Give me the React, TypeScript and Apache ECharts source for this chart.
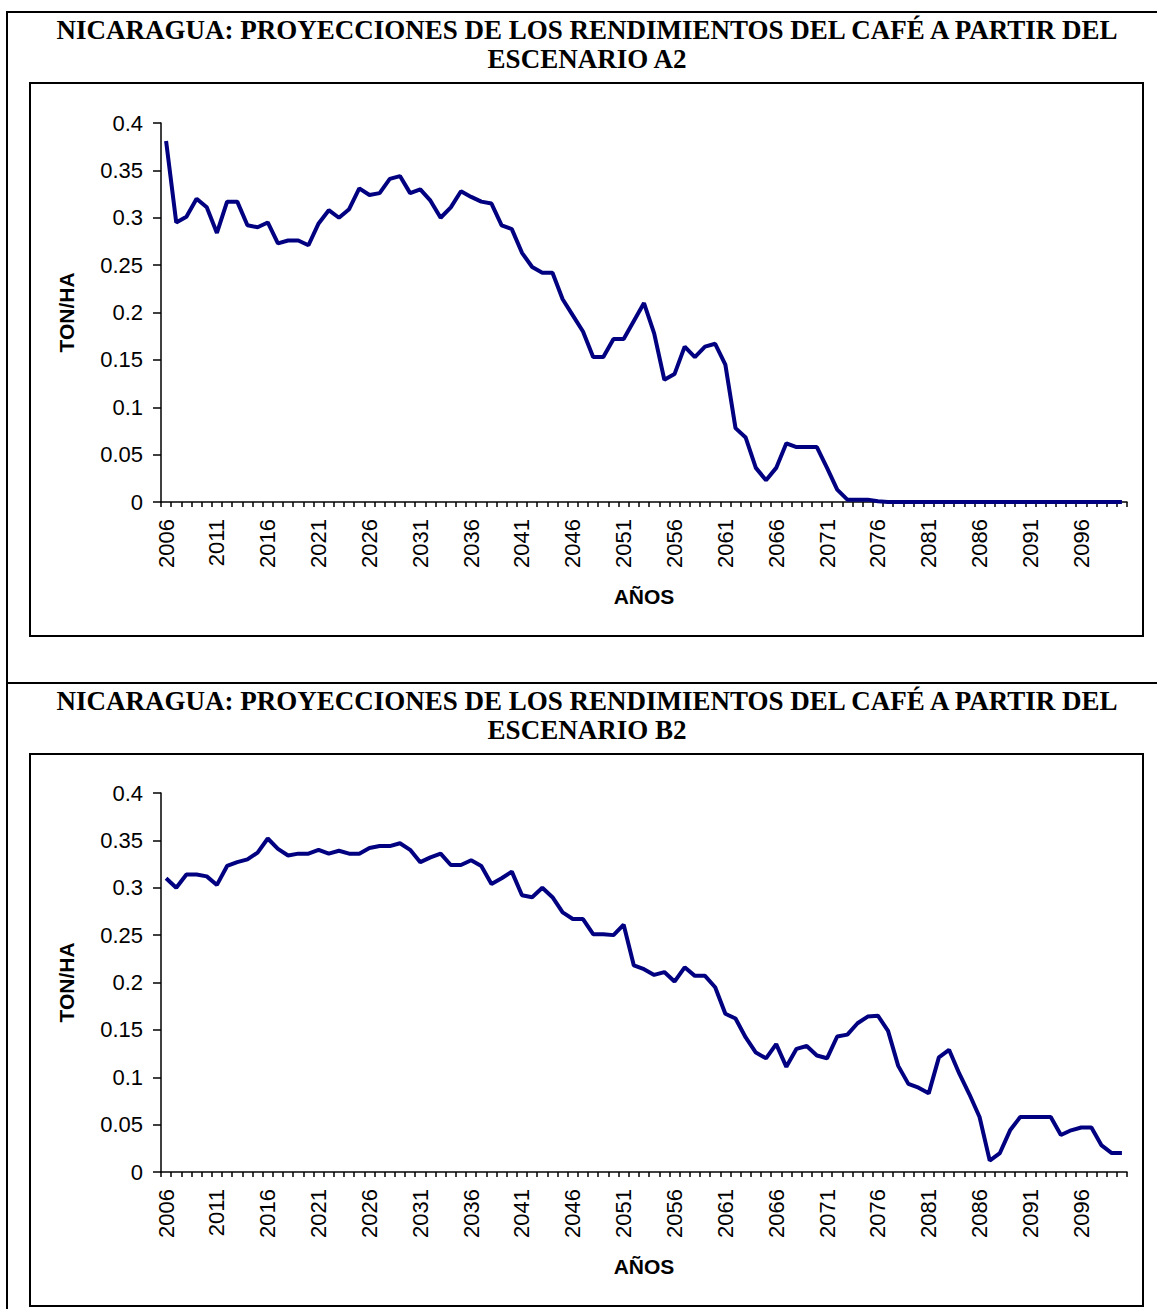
import React, { useEffect, useRef } from "react";
import * as echarts from "echarts";

const years: string[] = [
  "2006","2007","2008","2009","2010","2011","2012","2013","2014","2015",
  "2016","2017","2018","2019","2020","2021","2022","2023","2024","2025",
  "2026","2027","2028","2029","2030","2031","2032","2033","2034","2035",
  "2036","2037","2038","2039","2040","2041","2042","2043","2044","2045",
  "2046","2047","2048","2049","2050","2051","2052","2053","2054","2055",
  "2056","2057","2058","2059","2060","2061","2062","2063","2064","2065",
  "2066","2067","2068","2069","2070","2071","2072","2073","2074","2075",
  "2076","2077","2078","2079","2080","2081","2082","2083","2084","2085",
  "2086","2087","2088","2089","2090","2091","2092","2093","2094","2095",
  "2096","2097","2098","2099","2100",
];

const a2Values: number[] = [
  0.381, 0.295, 0.301, 0.32, 0.311, 0.284, 0.317, 0.317, 0.292, 0.29,
  0.295, 0.273, 0.276, 0.276, 0.271, 0.294, 0.308, 0.3, 0.309, 0.331,
  0.324, 0.326, 0.341, 0.344, 0.326, 0.33, 0.318, 0.3, 0.311, 0.328,
  0.322, 0.317, 0.315, 0.292, 0.288, 0.263, 0.248, 0.242, 0.242, 0.214,
  0.197, 0.18, 0.153, 0.153, 0.172, 0.172, 0.191, 0.21, 0.178, 0.129,
  0.135, 0.164, 0.153, 0.164, 0.167, 0.145, 0.078, 0.068, 0.036, 0.023,
  0.036, 0.062, 0.058, 0.058, 0.058, 0.036, 0.013, 0.0025, 0.0025, 0.0025,
  0.0007, 0, 0, 0, 0, 0, 0, 0, 0, 0,
  0, 0, 0, 0, 0, 0, 0, 0, 0, 0,
  0, 0, 0, 0, 0,
];

const b2Values: number[] = [
  0.31, 0.3, 0.314, 0.314, 0.312, 0.303, 0.323, 0.327, 0.33, 0.337,
  0.352, 0.341, 0.334, 0.336, 0.336, 0.34, 0.336, 0.339, 0.336, 0.336,
  0.342, 0.344, 0.344, 0.347, 0.34, 0.327, 0.332, 0.336, 0.324, 0.324,
  0.329, 0.323, 0.304, 0.31, 0.317, 0.292, 0.29, 0.3, 0.29, 0.274,
  0.267, 0.267, 0.251, 0.251, 0.25, 0.261, 0.218, 0.214, 0.208, 0.211,
  0.201, 0.216, 0.207, 0.207, 0.195, 0.167, 0.162, 0.142, 0.126, 0.12,
  0.135, 0.111, 0.13, 0.133, 0.123, 0.12, 0.143, 0.145, 0.157, 0.164,
  0.165, 0.149, 0.112, 0.093, 0.089, 0.083, 0.121, 0.129, 0.104, 0.082,
  0.058, 0.012, 0.02, 0.044, 0.058, 0.058, 0.058, 0.058, 0.039, 0.044,
  0.047, 0.047, 0.028, 0.02, 0.02,
];

const titleA2 = "NICARAGUA: PROYECCIONES DE LOS RENDIMIENTOS DEL CAFÉ A PARTIR DEL\nESCENARIO A2";
const titleB2 = "NICARAGUA: PROYECCIONES DE LOS RENDIMIENTOS DEL CAFÉ A PARTIR DEL\nESCENARIO B2";
const xName = "AÑOS";
const yName = "TON/HA";

const SANS = "Liberation Sans, Arial, sans-serif";
const SERIF = "Liberation Serif, Times New Roman, serif";

function xAxisFor(gridIndex: number) {
  return {
    type: "category",
    gridIndex,
    data: years,
    boundaryGap: true,
    name: xName,
    nameLocation: "middle",
    nameGap: 84,
    nameTextStyle: { fontFamily: SANS, fontWeight: "bold", fontSize: 21, color: "#000" },
    axisLine: { lineStyle: { color: "#000", width: 1.5 } },
    axisTick: { show: true, interval: 0, length: 5, inside: false, lineStyle: { color: "#000", width: 1.5 } },
    axisLabel: {
      interval: 4,
      rotate: 90,
      margin: 17,
      fontFamily: SANS,
      fontSize: 22,
      color: "#000",
    },
    splitLine: { show: false },
  };
}

function yAxisFor(gridIndex: number) {
  return {
    type: "value",
    gridIndex,
    min: 0,
    max: 0.4,
    interval: 0.05,
    name: yName,
    nameLocation: "middle",
    nameGap: 84,
    nameTextStyle: { fontFamily: SANS, fontWeight: "bold", fontSize: 21, color: "#000" },
    axisLine: { show: true, lineStyle: { color: "#000", width: 1.5 } },
    axisTick: { show: true, length: 8, lineStyle: { color: "#000", width: 1.5 } },
    axisLabel: { margin: 18, fontFamily: SANS, fontSize: 22, color: "#000" },
    splitLine: { show: false },
  };
}

export default function App() {
  const ref = useRef<HTMLDivElement>(null);

  useEffect(() => {
    if (!ref.current) return;
    const chart = echarts.init(ref.current, undefined, { renderer: "svg" });
    const border = { stroke: "#000", lineWidth: 2, fill: "none" };
    const titleStyle = { fontFamily: SERIF, fontWeight: "bold", fontSize: 27, lineHeight: 29, color: "#000" };
    chart.setOption({
      animation: false,
      backgroundColor: "#fff",
      title: [
        { text: titleA2, left: 587, top: 15, padding: 0, textAlign: "center", textStyle: titleStyle },
        { text: titleB2, left: 587, top: 686, padding: 0, textAlign: "center", textStyle: titleStyle },
      ],
      graphic: [
        { type: "rect", shape: { x: 7, y: 12, width: 1170, height: 1320 }, style: border, silent: true },
        { type: "line", shape: { x1: 7, y1: 683, x2: 1157, y2: 683 }, style: { stroke: "#000", lineWidth: 2 }, silent: true },
        { type: "rect", shape: { x: 30, y: 83, width: 1113, height: 553 }, style: border, silent: true },
        { type: "rect", shape: { x: 30, y: 754, width: 1113, height: 552 }, style: border, silent: true },
      ],
      grid: [
        { left: 161, top: 123, width: 966, height: 379, containLabel: false },
        { left: 161, top: 793, width: 966, height: 379, containLabel: false },
      ],
      xAxis: [xAxisFor(0), xAxisFor(1)],
      yAxis: [yAxisFor(0), yAxisFor(1)],
      series: [
        {
          type: "line",
          xAxisIndex: 0,
          yAxisIndex: 0,
          data: a2Values,
          showSymbol: false,
          symbol: "none",
          lineStyle: { color: "#000080", width: 4 },
        },
        {
          type: "line",
          xAxisIndex: 1,
          yAxisIndex: 1,
          data: b2Values,
          showSymbol: false,
          symbol: "none",
          lineStyle: { color: "#000080", width: 4 },
        },
      ],
    });
    return () => chart.dispose();
  }, []);

  return (
    <div
      ref={ref}
      style={{ position: "absolute", left: 0, top: 0, width: 1157, height: 1309 }}
    />
  );
}
